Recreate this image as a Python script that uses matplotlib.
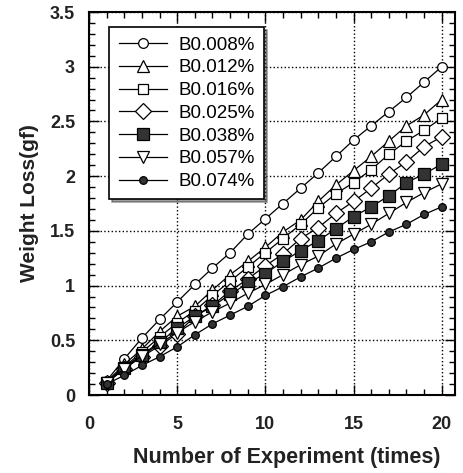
import matplotlib
matplotlib.use("Agg")
import matplotlib.pyplot as plt
from matplotlib.ticker import MultipleLocator

plt.rcParams['font.family'] = ['Liberation Sans', 'DejaVu Sans']

experiments = list(range(1, 21))
labels = ["B0.008%", "B0.012%", "B0.016%", "B0.025%", "B0.038%", "B0.057%", "B0.074%"]

b0008 = [0.13, 0.33, 0.52, 0.69, 0.85, 1.01, 1.16, 1.30, 1.47, 1.61,
         1.75, 1.89, 2.03, 2.18, 2.33, 2.46, 2.59, 2.72, 2.86, 3.00]
b0012 = [0.12, 0.28, 0.42, 0.58, 0.72, 0.81, 0.96, 1.10, 1.22, 1.35,
         1.49, 1.60, 1.77, 1.92, 2.05, 2.18, 2.32, 2.46, 2.56, 2.70]
b0016 = [0.12, 0.26, 0.39, 0.53, 0.66, 0.77, 0.91, 1.04, 1.17, 1.30,
         1.43, 1.56, 1.71, 1.84, 1.94, 2.06, 2.20, 2.32, 2.42, 2.53]
b0025 = [0.11, 0.24, 0.35, 0.45, 0.56, 0.72, 0.82, 0.95, 1.06, 1.18,
         1.29, 1.43, 1.53, 1.66, 1.77, 1.89, 2.02, 2.13, 2.27, 2.36]
b0038 = [0.11, 0.25, 0.37, 0.48, 0.61, 0.72, 0.81, 0.92, 1.02, 1.11,
         1.22, 1.32, 1.41, 1.52, 1.63, 1.72, 1.82, 1.94, 2.02, 2.11]
b0057 = [0.11, 0.24, 0.36, 0.47, 0.57, 0.67, 0.76, 0.84, 0.93, 1.01,
         1.10, 1.19, 1.27, 1.38, 1.47, 1.56, 1.66, 1.76, 1.85, 1.93]
b0074 = [0.10, 0.18, 0.27, 0.35, 0.44, 0.55, 0.65, 0.73, 0.81, 0.91,
         0.99, 1.08, 1.16, 1.25, 1.33, 1.40, 1.49, 1.56, 1.65, 1.72]

series = [b0008, b0012, b0016, b0025, b0038, b0057, b0074]
styles = [
    dict(marker='o', mfc='white', ms=7),
    dict(marker='^', mfc='white', ms=9),
    dict(marker='s', mfc='white', ms=7),
    dict(marker='D', mfc='white', ms=8),
    dict(marker='s', mfc='#333333', ms=9),
    dict(marker='v', mfc='white', ms=9),
    dict(marker='o', mfc='#333333', ms=5.5),
]

fig = plt.figure(figsize=(4.63, 4.73), dpi=100)
ax = fig.add_axes([89/463, 1 - 395/473, (455 - 89)/463, (395 - 12)/473])

for data, lab, st in zip(series, labels, styles):
    ax.plot(experiments, data, color='black', lw=0.9, mec='black', mew=0.9,
            label=lab, **st)

ax.set_xlim(0, 20.75)
ax.set_ylim(0, 3.5)
ax.xaxis.set_major_locator(MultipleLocator(5))
ax.xaxis.set_minor_locator(MultipleLocator(1))
ax.yaxis.set_major_locator(MultipleLocator(0.5))
ax.yaxis.set_minor_locator(MultipleLocator(0.1))
ax.set_yticks([0, 0.5, 1, 1.5, 2, 2.5, 3, 3.5])
ax.set_yticklabels(['0', '0.5', '1', '1.5', '2', '2.5', '3', '3.5'])
ax.tick_params(which='both', direction='in', top=True, right=True, color='black')
ax.tick_params(which='major', length=7, width=1, labelsize=13)
ax.tick_params(axis='x', which='major', pad=15)
ax.tick_params(axis='y', which='major', pad=10)
ax.tick_params(which='minor', length=4, width=1)
for lbl in ax.get_xticklabels() + ax.get_yticklabels():
    lbl.set_fontweight('bold')
    lbl.set_color('#222222')
ax.grid(True, which='major', linestyle=':', color='black', lw=1)
for s in ax.spines.values():
    s.set_linewidth(1.5)

ax.set_xlabel('Number of Experiment (times)', fontsize=15.5, fontweight='bold',
              color='#222222')
ax.xaxis.set_label_coords(0.54, -0.135)
ax.set_ylabel('Weight Loss(gf)', fontsize=15, fontweight='bold',
              color='#222222', labelpad=8)

leg = ax.legend(loc='upper left', bbox_to_anchor=(0.03, 0.985), fontsize=13.5,
                frameon=True, fancybox=False, shadow={'color': '0.25'},
                handlelength=2.6, labelspacing=0.3, borderpad=0.5,
                handletextpad=0.6, framealpha=1)
leg.get_frame().set_edgecolor('black')
leg.get_frame().set_linewidth(1.2)

fig.savefig('out.png', dpi=100)
